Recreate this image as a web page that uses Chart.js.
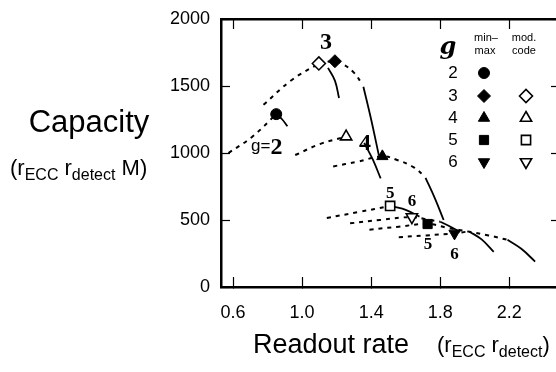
<!DOCTYPE html>
<html>
<head>
<meta charset="utf-8">
<script src="https://cdn.jsdelivr.net/npm/chart.js@4/dist/chart.umd.min.js"></script>
<style>
  html, body { margin: 0; padding: 0; background: #fff; overflow: hidden; }
  #wrap { width: 556px; height: 372px; overflow: hidden; }
</style>
</head>
<body>
<div id="wrap"><canvas id="myChart" width="570" height="372"></canvas></div>
<script>
// tick labels
const xTicks = [0.6, 1.0, 1.4, 1.8, 2.2];
const yTicks = [0, 500, 1000, 1500, 2000];

// markers (g, readout rate, capacity)
const minMaxG = [2, 3, 4, 5, 6];
const minMaxX = [0.85, 1.19, 1.465, 1.727, 1.883];
const minMaxY = [1290, 1685, 975, 470, 400];
const modG = [3, 4, 5, 6];
const modX = [1.097, 1.255, 1.51, 1.636];
const modY = [1668, 1122, 605, 522];

// curves: dotted = rising part, solid = falling part
const g2MinMaxDot = [[0.573, 1000], [0.71, 1120], [0.85, 1290]];
const g2MinMaxSolid = [[0.85, 1290], [0.885, 1250], [0.915, 1200]];
const g3ModDot = [[0.776, 1360], [0.94, 1545], [1.097, 1668]];
const g3ModSolid = [[1.15, 1635], [1.19, 1540], [1.214, 1410]];
const g3MinMaxDot = [[1.097, 1668], [1.19, 1685], [1.24, 1660], [1.30, 1600], [1.35, 1510]];
const g3MinMaxSolid = [[1.355, 1495], [1.40, 1250], [1.445, 980]];
const g4ModDot = [[0.96, 985], [1.11, 1070], [1.255, 1122]];
const g4ModSolid = [[1.36, 1075], [1.41, 950], [1.455, 810]];
const g4MinMaxDot = [[1.18, 900], [1.32, 935], [1.465, 975], [1.55, 948], [1.645, 895], [1.71, 825]];
const g4MinMaxSolid = [[1.715, 815], [1.77, 660], [1.82, 500]];
const g5ModDot = [[1.143, 515], [1.33, 560], [1.51, 605]];
const g5ModSolid = [[1.53, 600], [1.60, 575], [1.68, 525]];
const g6ModDot = [[1.278, 475], [1.45, 500], [1.636, 522], [1.72, 505], [1.80, 487]];
const g6ModSolid = [[1.80, 487], [1.86, 450], [1.915, 410]];
const g5MinMaxDot = [[1.39, 428], [1.56, 450], [1.727, 470], [1.85, 440], [1.97, 412], [2.08, 385], [2.19, 352]];
const g5MinMaxSolid = [[2.19, 352], [2.27, 285], [2.35, 190]];
const g6MinMaxDot = [[1.56, 372], [1.72, 385], [1.883, 400], [1.95, 412]];
const g6MinMaxSolid = [[1.97, 413], [2.04, 355], [2.11, 262]];

// curve labels
const labelText = ['3', '4', '5', '6', '5', '6'];
const labelX = [1.139, 1.365, 1.51, 1.636, 1.729, 1.883];
const labelY = [1819, 1072, 699, 637, 313, 239];
const labelSize = [24, 24, 17, 17, 17, 17];

const curves = [
  [g2MinMaxDot, true], [g2MinMaxSolid, false],
  [g3ModDot, true], [g3ModSolid, false],
  [g3MinMaxDot, true], [g3MinMaxSolid, false],
  [g4ModDot, true], [g4ModSolid, false],
  [g4MinMaxDot, true], [g4MinMaxSolid, false],
  [g5ModDot, true], [g5ModSolid, false],
  [g6ModDot, true], [g6ModSolid, false],
  [g5MinMaxDot, true], [g5MinMaxSolid, false],
  [g6MinMaxDot, true], [g6MinMaxSolid, false]
];

function styleFor(g) {
  return { 2: ['circle', 0], 3: ['rectRot', 0], 4: ['triangle', 0], 5: ['rect', 0], 6: ['triangle', 180] }[g];
}

const datasets = [];
datasets.push({
  data: minMaxX.map((x, i) => ({ x: x, y: minMaxY[i] })),
  pointStyle: minMaxG.map(g => styleFor(g)[0]),
  rotation: minMaxG.map(g => styleFor(g)[1]),
  pointRadius: minMaxG.map(g => g == 2 ? 5.5 : 6.5),
  backgroundColor: '#000', borderColor: '#000', borderWidth: 1,
  showLine: false, order: 0
});
datasets.push({
  data: modX.map((x, i) => ({ x: x, y: modY[i] })),
  pointStyle: modG.map(g => styleFor(g)[0]),
  rotation: modG.map(g => styleFor(g)[1]),
  pointRadius: 6.5,
  backgroundColor: '#fff', borderColor: '#000', borderWidth: 1.6,
  showLine: false, order: 0
});
curves.forEach(c => {
  datasets.push({
    data: c[0].map(p => ({ x: p[0], y: p[1] })),
    showLine: true, pointRadius: 0,
    borderColor: '#000', borderWidth: c[1] ? 2 : 1.8,
    borderDash: c[1] ? [4, 5] : [],
    tension: 0.4, fill: false, order: 1
  });
});

function drawSubText(ctx, parts, x, y) {
  // parts: [text, sub?]
  parts.forEach(p => {
    ctx.font = p[1] ? '16px "Liberation Sans"' : '22px "Liberation Sans"';
    ctx.fillText(p[0], x, y + (p[1] ? 5 : 0));
    x += ctx.measureText(p[0]).width;
  });
}

const textPlugin = {
  id: 'texts',
  afterDraw(chart) {
    const ctx = chart.ctx;
    const xs = chart.scales.x, ys = chart.scales.y;
    ctx.save();
    ctx.fillStyle = '#000';
    // curve labels
    ctx.textAlign = 'center';
    ctx.textBaseline = 'middle';
    labelText.forEach((t, i) => {
      ctx.font = 'bold ' + labelSize[i] + 'px "Liberation Serif"';
      ctx.fillText(t, xs.getPixelForValue(labelX[i]), ys.getPixelForValue(labelY[i]));
    });
    // g=2
    const gx = xs.getPixelForValue(0.795), gy = ys.getPixelForValue(1047);
    ctx.textAlign = 'left';
    ctx.font = '17px "Liberation Sans"';
    const w1 = ctx.measureText('g=').width;
    ctx.font = 'bold 24px "Liberation Serif"';
    const w2 = ctx.measureText('2').width;
    const sx = gx - (w1 + w2) / 2;
    ctx.font = '17px "Liberation Sans"';
    ctx.fillText('g=', sx, gy);
    ctx.font = 'bold 24px "Liberation Serif"';
    ctx.fillText('2', sx + w1, gy + 1);

    // legend
    ctx.textAlign = 'center';
    ctx.font = 'italic bold 24px "DejaVu Serif"';
    ctx.fillText('g', 448, 48);
    ctx.font = '11px "Liberation Sans"';
    ctx.fillText('min\u2013', 486, 38);
    ctx.fillText('max', 485, 51);
    ctx.fillText('mod.', 524, 38);
    ctx.fillText('code', 524, 51);
    const rowY = [73, 96, 118, 140, 162];
    [2, 3, 4, 5, 6].forEach((g, i) => {
      ctx.font = '17px "Liberation Sans"';
      ctx.fillStyle = '#000';
      ctx.fillText(String(g), 453, rowY[i]);
      const st = styleFor(g);
      ctx.fillStyle = '#000';
      ctx.strokeStyle = '#000';
      ctx.lineWidth = 1;
      Chart.helpers.drawPoint(ctx, { pointStyle: st[0], rotation: st[1], radius: g == 2 ? 5.5 : 6.5, borderWidth: 1 }, 484, rowY[i]);
      if (modG.indexOf(g) >= 0) {
        ctx.fillStyle = '#fff';
        ctx.lineWidth = 1.6;
        Chart.helpers.drawPoint(ctx, { pointStyle: st[0], rotation: st[1], radius: 6.5, borderWidth: 1.6 }, 526, rowY[i]);
      }
    });

    // axis titles
    ctx.fillStyle = '#000';
    ctx.textBaseline = 'alphabetic';
    ctx.textAlign = 'center';
    ctx.font = '31px "Liberation Sans"';
    ctx.fillText('Capacity', 89, 132);
    ctx.font = '27px "Liberation Sans"';
    ctx.fillText('Readout rate', 331, 353);
    ctx.textAlign = 'left';
    drawSubText(ctx, [['(r', 0], ['ECC', 1], [' r', 0], ['detect', 1], [' M)', 0]], 10, 175);
    drawSubText(ctx, [['(r', 0], ['ECC', 1], [' r', 0], ['detect', 1], [')', 0]], 437, 352);
    ctx.restore();
  }
};

// frame sides share these settings: inward ticks via negative tick length
function frameGrid(len) {
  return { display: true, drawOnChartArea: false, drawTicks: true, tickLength: len, tickWidth: 1.2, tickColor: '#000' };
}
const frameBorder = { display: true, width: 2.5, color: '#000' };
const tickFont = { family: 'Liberation Sans', size: 18 };

const myChart = new Chart(document.getElementById('myChart').getContext('2d'), {
  type: 'scatter',
  data: { datasets: datasets },
  options: {
    responsive: false,
    animation: false,
    devicePixelRatio: 1,
    layout: { padding: 0 },
    plugins: { legend: { display: false }, tooltip: { enabled: false } },
    scales: {
      x: {
        type: 'linear', position: 'bottom', min: 0.53, max: 2.5,
        afterBuildTicks: s => { s.ticks = xTicks.map(v => ({ value: v })); },
        afterFit: s => { s.height = 85; s.paddingLeft = 0; s.paddingRight = 0; },
        grid: frameGrid(-10),
        border: frameBorder,
        ticks: { color: '#000', padding: 25, maxRotation: 0, font: tickFont, callback: v => Number(v).toFixed(1) }
      },
      x2: {
        type: 'linear', position: 'top', min: 0.53, max: 2.5,
        afterBuildTicks: s => { s.ticks = xTicks.map(v => ({ value: v })); },
        afterFit: s => { s.height = 19; s.paddingLeft = 0; s.paddingRight = 0; },
        grid: frameGrid(-10),
        border: frameBorder,
        ticks: { display: false }
      },
      y: {
        type: 'linear', position: 'left', min: 0, max: 2000,
        afterBuildTicks: s => { s.ticks = yTicks.map(v => ({ value: v })); },
        afterFit: s => { s.width = 221; s.paddingTop = 0; s.paddingBottom = 0; },
        grid: frameGrid(-9),
        border: frameBorder,
        ticks: { color: '#000', padding: 20, font: tickFont, callback: v => String(v) }
      },
      y2: {
        type: 'linear', position: 'right', min: 0, max: 2000,
        afterBuildTicks: s => { s.ticks = yTicks.map(v => ({ value: v })); },
        afterFit: s => { s.width = 9; s.paddingTop = 0; s.paddingBottom = 0; },
        grid: frameGrid(-10),
        border: frameBorder,
        ticks: { display: false }
      }
    }
  },
  plugins: [textPlugin]
});
</script>
</body>
</html>
